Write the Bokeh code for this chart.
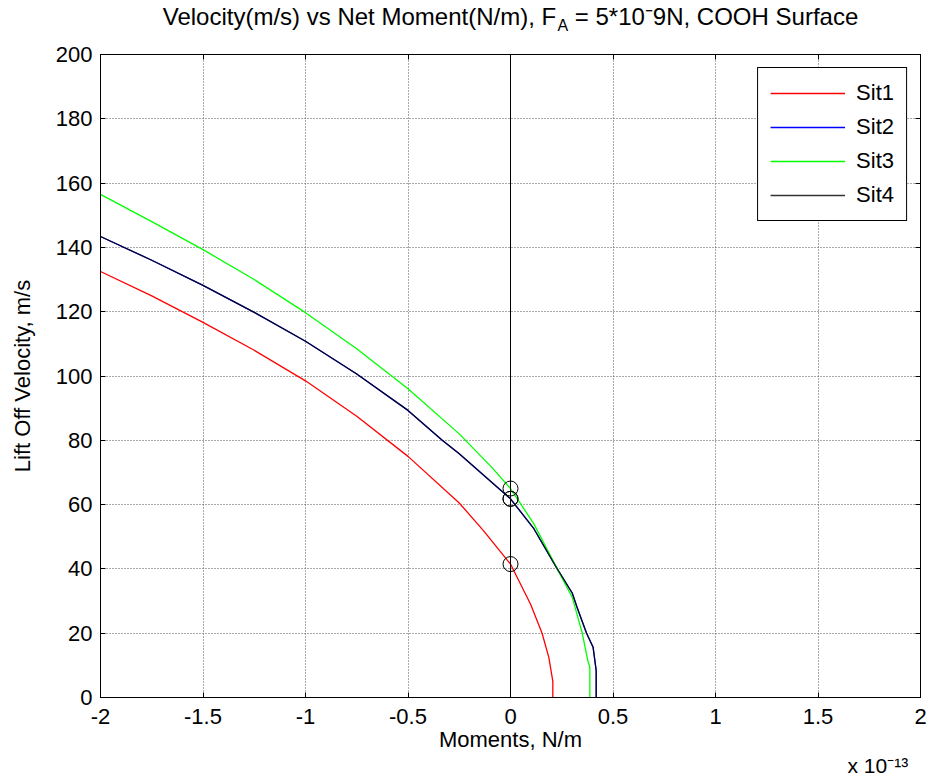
from bokeh.plotting import figure
from bokeh.models import Range1d, FixedTicker, LinearAxis, Span, Label, Legend, LegendItem
from bokeh.embed import file_html
from bokeh.resources import INLINE

# ---------------- data (moments in units of 1e-13 N/m, velocity in m/s) ----------------
sit1_m = [-2.0, -1.75, -1.5, -1.25, -1.0, -0.75, -0.5, -0.25, -0.133, 0.0, 0.098, 0.154, 0.187, 0.200, 0.2065, 0.2065]
sit1_v = [132.5, 124.9, 116.7, 108.0, 98.5, 87.5, 75.0, 60.5, 52.0, 41.5, 29.0, 20.0, 12.5, 7.5, 5.0, 0.0]

sit4_m = [-2.0, -1.75, -1.5, -1.25, -1.0, -0.75, -0.5, -0.333, -0.25, 0.0, 0.114, 0.228, 0.301, 0.325, 0.371, 0.403, 0.418, 0.418]
sit4_v = [143.4, 136.0, 128.2, 119.8, 110.8, 100.6, 89.3, 80.0, 75.8, 61.8, 52.5, 40.0, 32.5, 28.0, 20.0, 15.6, 8.4, 0.0]

sit2_m = list(sit4_m)
sit2_v = list(sit4_v)

sit3_m = [-2.0, -1.75, -1.5, -1.25, -1.0, -0.75, -0.5, -0.25, -0.09, 0.0, 0.114, 0.228, 0.301, 0.35, 0.377, 0.387, 0.387]
sit3_v = [156.5, 148.0, 139.3, 130.0, 119.7, 108.5, 96.0, 82.0, 71.5, 65.0, 54.0, 40.0, 31.2, 20.0, 11.5, 9.4, 0.0]

circle_m = [0.0, 0.0, 0.0, 0.0]
circle_v = [41.5, 61.8, 65.0, 61.8]

series_names = ["Sit1", "Sit2", "Sit3", "Sit4"]
x_ticks = [-2, -1.5, -1, -0.5, 0, 0.5, 1, 1.5, 2]
x_tick_labels = ["-2", "-1.5", "-1", "-0.5", "0", "0.5", "1", "1.5", "2"]
y_ticks = [0, 20, 40, 60, 80, 100, 120, 140, 160, 180, 200]

FONT = "Liberation Sans"

p = figure(width=927, height=778, x_range=Range1d(-2, 2), y_range=Range1d(0, 200),
           output_backend="svg", toolbar_location=None, title=None,
           min_border_left=100, min_border_right=7, min_border_top=54, min_border_bottom=81)
p.outline_line_color = "black"
p.background_fill_color = "white"
p.border_fill_color = "white"

# grid
for g, t in ((p.xgrid, x_ticks), (p.ygrid, y_ticks)):
    g.ticker = FixedTicker(ticks=t)
    g.grid_line_color = "#555555"
    g.grid_line_dash = "1 2"
    g.grid_line_width = 1


def style_axis(ax, ticks, show_labels):
    ax.ticker = FixedTicker(ticks=ticks)
    ax.major_tick_in = 5
    ax.major_tick_out = 0
    ax.minor_tick_line_color = None
    ax.axis_line_color = "black"
    ax.axis_line_width = 1
    ax.major_tick_line_color = "black"
    ax.major_label_text_font = FONT
    ax.major_label_text_font_size = "22px"
    ax.major_label_text_color = "black"
    if not show_labels:
        ax.major_label_overrides = {t: "" for t in ticks}
        ax.major_label_text_font_size = "0px"
        ax.major_label_standoff = 0


style_axis(p.xaxis[0], x_ticks, True)
p.xaxis[0].major_label_overrides = dict(zip(x_ticks, x_tick_labels))
p.xaxis[0].major_label_standoff = 11
p.xaxis[0].axis_label = "Moments, N/m"
p.xaxis[0].axis_label_standoff = 0

style_axis(p.yaxis[0], y_ticks, True)
p.yaxis[0].major_label_standoff = 8
p.yaxis[0].axis_label = "Lift Off Velocity, m/s"
p.yaxis[0].axis_label_standoff = 18

for ax in (p.xaxis[0], p.yaxis[0]):
    ax.axis_label_text_font = FONT
    ax.axis_label_text_font_size = "22px"
    ax.axis_label_text_font_style = "normal"
    ax.axis_label_text_color = "black"

top_ax = LinearAxis()
style_axis(top_ax, x_ticks, False)
p.add_layout(top_ax, "above")
right_ax = LinearAxis()
style_axis(right_ax, y_ticks, False)
p.add_layout(right_ax, "right")

# vertical zero line
p.add_layout(Span(location=0, dimension="height", line_color="black", line_width=1))

# curves
r1 = p.line(sit1_m, sit1_v, line_color="#ff0000", line_width=1.3)
r2 = p.line(sit2_m, sit2_v, line_color="#0000ff", line_width=1.3)
r3 = p.line(sit3_m, sit3_v, line_color="#00ff00", line_width=1.3)
r4 = p.line(sit4_m, sit4_v, line_color="black", line_alpha=0.8, line_width=1.3)

p.scatter(circle_m, circle_v, marker="circle", size=15, fill_color=None,
          line_color="black", line_width=1)

legend = Legend(items=[LegendItem(label=n, renderers=[r]) for n, r in zip(series_names, [r1, r2, r3, r4])],
                location="top_right")
legend.margin = 13
legend.padding = 12
legend.spacing = 8
legend.glyph_width = 75
legend.glyph_height = 24
legend.label_height = 24
legend.label_standoff = 11
legend.label_text_font = FONT
legend.label_text_font_size = "22px"
legend.label_text_color = "black"
legend.border_line_color = "black"
legend.border_line_width = 1
legend.border_line_alpha = 1
legend.background_fill_color = "white"
legend.background_fill_alpha = 1
p.add_layout(legend)

# title (side panel above the frame, data coordinates); subscript "A" as its own label
p.add_layout(Label(x=0.0, y=211.7,
                   text="Velocity(m/s) vs Net Moment(N/m), F\u2002\u00a0= 5*10\u207b9N, COOH Surface",
                   text_align="center", text_baseline="alphabetic",
                   text_font=FONT, text_font_size="24px", text_color="black"), "above")
p.add_layout(Label(x=0.229, y=208.9, text="A",
                   text_align="left", text_baseline="alphabetic",
                   text_font=FONT, text_font_size="16px", text_color="black"), "above")

# axis multiplier
p.add_layout(Label(x=1.644, y=-21.2, text="x 10\u207b\u00b9\u00b3", text_align="left",
                   text_baseline="alphabetic",
                   text_font=FONT, text_font_size="21px", text_color="black"), "below")

open("out.html", "w").write(file_html(p, INLINE))
